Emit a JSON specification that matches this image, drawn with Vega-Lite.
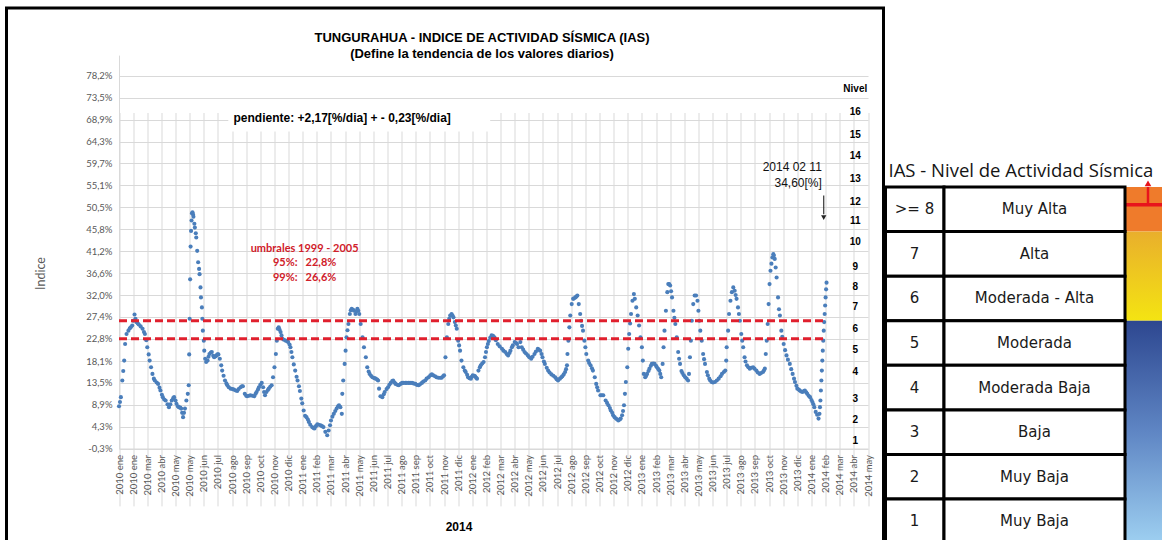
{
  "$schema": "https://vega.github.io/schema/vega-lite/v6.json",
  "background": "white",
  "padding": {"left": 4.5, "top": 6, "right": 0, "bottom": 0},
  "spacing": -5,
  "config": {"view": {"stroke": null}},
  "datasets": {
    "ias": [
      {"fecha":"2010-01-01","ias":8.6},{"fecha":"2010-01-03","ias":9.5},{"fecha":"2010-01-05","ias":10.5},{"fecha":"2010-01-08","ias":14.0},{"fecha":"2010-01-10","ias":16.0},{"fecha":"2010-01-12","ias":18.2},{"fecha":"2010-01-14","ias":21.7},{"fecha":"2010-01-17","ias":23.8},{"fecha":"2010-01-21","ias":24.5},{"fecha":"2010-01-24","ias":25.0},{"fecha":"2010-01-26","ias":25.2},{"fecha":"2010-01-29","ias":25.6},{"fecha":"2010-01-31","ias":26.6},
      {"fecha":"2010-02-03","ias":27.9},{"fecha":"2010-02-05","ias":27.0},{"fecha":"2010-02-07","ias":26.3},{"fecha":"2010-02-10","ias":26.0},{"fecha":"2010-02-12","ias":25.8},{"fecha":"2010-02-16","ias":25.4},{"fecha":"2010-02-20","ias":24.9},{"fecha":"2010-02-23","ias":24.2},{"fecha":"2010-02-25","ias":23.8},{"fecha":"2010-02-28","ias":22.5},
      {"fecha":"2010-03-02","ias":21.0},{"fecha":"2010-03-05","ias":19.5},{"fecha":"2010-03-07","ias":18.2},{"fecha":"2010-03-10","ias":16.8},{"fecha":"2010-03-13","ias":15.4},{"fecha":"2010-03-16","ias":14.4},{"fecha":"2010-03-18","ias":14.0},{"fecha":"2010-03-22","ias":13.6},{"fecha":"2010-03-25","ias":13.3},{"fecha":"2010-03-28","ias":12.5},{"fecha":"2010-03-30","ias":11.9},
      {"fecha":"2010-04-02","ias":11.0},{"fecha":"2010-04-04","ias":10.5},{"fecha":"2010-04-07","ias":10.0},{"fecha":"2010-04-10","ias":9.8},{"fecha":"2010-04-14","ias":9.0},{"fecha":"2010-04-17","ias":8.4},{"fecha":"2010-04-20","ias":9.0},{"fecha":"2010-04-23","ias":9.8},{"fecha":"2010-04-26","ias":10.3},{"fecha":"2010-04-28","ias":10.5},
      {"fecha":"2010-05-01","ias":9.8},{"fecha":"2010-05-03","ias":9.1},{"fecha":"2010-05-06","ias":8.6},{"fecha":"2010-05-08","ias":8.4},{"fecha":"2010-05-11","ias":8.3},{"fecha":"2010-05-13","ias":8.1},{"fecha":"2010-05-15","ias":7.2},{"fecha":"2010-05-17","ias":6.3},{"fecha":"2010-05-19","ias":7.2},{"fecha":"2010-05-21","ias":8.1},{"fecha":"2010-05-24","ias":9.8},{"fecha":"2010-05-27","ias":11.2},{"fecha":"2010-05-29","ias":13.0},{"fecha":"2010-05-30","ias":19.5},{"fecha":"2010-05-31","ias":27.0},
      {"fecha":"2010-06-01","ias":35.3},{"fecha":"2010-06-02","ias":42.2},{"fecha":"2010-06-03","ias":45.5},{"fecha":"2010-06-04","ias":47.7},{"fecha":"2010-06-05","ias":49.2},{"fecha":"2010-06-06","ias":49.4},{"fecha":"2010-06-07","ias":49.0},{"fecha":"2010-06-08","ias":48.5},{"fecha":"2010-06-10","ias":47.0},{"fecha":"2010-06-11","ias":46.2},{"fecha":"2010-06-13","ias":45.0},{"fecha":"2010-06-14","ias":44.1},{"fecha":"2010-06-16","ias":41.3},{"fecha":"2010-06-18","ias":38.9},{"fecha":"2010-06-20","ias":37.5},{"fecha":"2010-06-21","ias":36.4},{"fecha":"2010-06-23","ias":33.6},{"fecha":"2010-06-24","ias":31.5},{"fecha":"2010-06-26","ias":29.4},{"fecha":"2010-06-27","ias":27.0},{"fecha":"2010-06-28","ias":24.5},{"fecha":"2010-06-30","ias":22.4},
      {"fecha":"2010-07-01","ias":20.3},{"fecha":"2010-07-03","ias":18.6},{"fecha":"2010-07-05","ias":17.9},{"fecha":"2010-07-08","ias":18.2},{"fecha":"2010-07-10","ias":19.0},{"fecha":"2010-07-12","ias":19.6},{"fecha":"2010-07-15","ias":19.9},{"fecha":"2010-07-17","ias":20.0},{"fecha":"2010-07-20","ias":19.2},{"fecha":"2010-07-22","ias":18.9},{"fecha":"2010-07-25","ias":19.1},{"fecha":"2010-07-27","ias":19.3},{"fecha":"2010-07-29","ias":19.5},{"fecha":"2010-07-31","ias":19.5},
      {"fecha":"2010-08-03","ias":18.6},{"fecha":"2010-08-06","ias":17.2},{"fecha":"2010-08-08","ias":16.1},{"fecha":"2010-08-11","ias":15.0},{"fecha":"2010-08-14","ias":14.0},{"fecha":"2010-08-17","ias":13.4},{"fecha":"2010-08-19","ias":13.0},{"fecha":"2010-08-22","ias":12.6},{"fecha":"2010-08-26","ias":12.3},{"fecha":"2010-08-30","ias":12.2},
      {"fecha":"2010-09-02","ias":12.1},{"fecha":"2010-09-06","ias":11.9},{"fecha":"2010-09-09","ias":11.8},{"fecha":"2010-09-12","ias":12.2},{"fecha":"2010-09-16","ias":12.6},{"fecha":"2010-09-19","ias":12.8},{"fecha":"2010-09-21","ias":12.8},{"fecha":"2010-09-25","ias":11.2},{"fecha":"2010-09-28","ias":10.8},{"fecha":"2010-09-30","ias":10.7},
      {"fecha":"2010-10-04","ias":10.8},{"fecha":"2010-10-07","ias":10.9},{"fecha":"2010-10-11","ias":10.8},{"fecha":"2010-10-15","ias":10.7},{"fecha":"2010-10-18","ias":11.2},{"fecha":"2010-10-20","ias":11.6},{"fecha":"2010-10-23","ias":12.1},{"fecha":"2010-10-25","ias":12.6},{"fecha":"2010-10-28","ias":13.1},{"fecha":"2010-10-31","ias":13.5},
      {"fecha":"2010-11-03","ias":12.6},{"fecha":"2010-11-05","ias":11.6},{"fecha":"2010-11-07","ias":10.9},{"fecha":"2010-11-10","ias":11.6},{"fecha":"2010-11-13","ias":12.0},{"fecha":"2010-11-15","ias":12.3},{"fecha":"2010-11-18","ias":12.7},{"fecha":"2010-11-21","ias":13.0},{"fecha":"2010-11-24","ias":14.7},{"fecha":"2010-11-27","ias":16.8},{"fecha":"2010-11-30","ias":19.6},
      {"fecha":"2010-12-02","ias":22.4},{"fecha":"2010-12-04","ias":24.9},{"fecha":"2010-12-06","ias":25.2},{"fecha":"2010-12-08","ias":24.7},{"fecha":"2010-12-10","ias":24.2},{"fecha":"2010-12-12","ias":23.5},{"fecha":"2010-12-14","ias":22.8},{"fecha":"2010-12-17","ias":22.6},{"fecha":"2010-12-21","ias":22.4},{"fecha":"2010-12-24","ias":22.3},{"fecha":"2010-12-26","ias":22.1},{"fecha":"2010-12-29","ias":21.6},{"fecha":"2010-12-31","ias":21.0},
      {"fecha":"2011-01-02","ias":20.0},{"fecha":"2011-01-04","ias":18.9},{"fecha":"2011-01-07","ias":17.4},{"fecha":"2011-01-10","ias":16.1},{"fecha":"2011-01-13","ias":14.8},{"fecha":"2011-01-15","ias":14.0},{"fecha":"2011-01-18","ias":12.8},{"fecha":"2011-01-20","ias":11.8},{"fecha":"2011-01-23","ias":10.2},{"fecha":"2011-01-25","ias":9.2},{"fecha":"2011-01-28","ias":7.7},{"fecha":"2011-01-31","ias":6.6},
      {"fecha":"2011-02-03","ias":6.3},{"fecha":"2011-02-06","ias":5.8},{"fecha":"2011-02-08","ias":5.3},{"fecha":"2011-02-11","ias":4.7},{"fecha":"2011-02-15","ias":4.2},{"fecha":"2011-02-18","ias":4.0},{"fecha":"2011-02-20","ias":3.9},{"fecha":"2011-02-23","ias":4.4},{"fecha":"2011-02-26","ias":4.8},
      {"fecha":"2011-03-01","ias":4.7},{"fecha":"2011-03-05","ias":4.6},{"fecha":"2011-03-08","ias":4.4},{"fecha":"2011-03-11","ias":4.2},{"fecha":"2011-03-15","ias":3.2},{"fecha":"2011-03-19","ias":2.5},{"fecha":"2011-03-22","ias":3.5},{"fecha":"2011-03-25","ias":4.6},{"fecha":"2011-03-27","ias":5.6},{"fecha":"2011-03-30","ias":6.4},
      {"fecha":"2011-04-02","ias":7.0},{"fecha":"2011-04-05","ias":7.6},{"fecha":"2011-04-08","ias":8.1},{"fecha":"2011-04-11","ias":8.6},{"fecha":"2011-04-13","ias":8.8},{"fecha":"2011-04-16","ias":8.4},{"fecha":"2011-04-19","ias":7.0},{"fecha":"2011-04-20","ias":11.2},{"fecha":"2011-04-22","ias":14.0},{"fecha":"2011-04-25","ias":17.5},{"fecha":"2011-04-27","ias":20.3},{"fecha":"2011-04-29","ias":23.1},
      {"fecha":"2011-05-01","ias":24.6},{"fecha":"2011-05-03","ias":25.9},{"fecha":"2011-05-06","ias":28.0},{"fecha":"2011-05-08","ias":28.8},{"fecha":"2011-05-10","ias":29.1},{"fecha":"2011-05-13","ias":28.9},{"fecha":"2011-05-15","ias":28.7},{"fecha":"2011-05-18","ias":28.0},{"fecha":"2011-05-20","ias":28.6},{"fecha":"2011-05-22","ias":29.1},{"fecha":"2011-05-24","ias":28.7},{"fecha":"2011-05-26","ias":28.0},{"fecha":"2011-05-29","ias":25.9},
      {"fecha":"2011-06-02","ias":23.1},{"fecha":"2011-06-05","ias":21.0},{"fecha":"2011-06-09","ias":18.9},{"fecha":"2011-06-12","ias":16.8},{"fecha":"2011-06-15","ias":15.9},{"fecha":"2011-06-17","ias":15.4},{"fecha":"2011-06-20","ias":15.0},{"fecha":"2011-06-23","ias":14.7},{"fecha":"2011-06-27","ias":14.5},{"fecha":"2011-06-30","ias":14.4},
      {"fecha":"2011-07-03","ias":14.2},{"fecha":"2011-07-05","ias":14.0},{"fecha":"2011-07-07","ias":12.3},{"fecha":"2011-07-10","ias":10.7},{"fecha":"2011-07-14","ias":10.5},{"fecha":"2011-07-17","ias":11.1},{"fecha":"2011-07-19","ias":11.6},{"fecha":"2011-07-23","ias":12.2},{"fecha":"2011-07-26","ias":12.6},{"fecha":"2011-07-29","ias":13.1},
      {"fecha":"2011-08-01","ias":13.5},{"fecha":"2011-08-04","ias":13.9},{"fecha":"2011-08-06","ias":14.0},{"fecha":"2011-08-09","ias":13.6},{"fecha":"2011-08-11","ias":13.3},{"fecha":"2011-08-15","ias":13.1},{"fecha":"2011-08-18","ias":13.0},{"fecha":"2011-08-22","ias":13.3},{"fecha":"2011-08-25","ias":13.5},{"fecha":"2011-08-28","ias":13.5},
      {"fecha":"2011-09-01","ias":13.5},{"fecha":"2011-09-04","ias":13.5},{"fecha":"2011-09-08","ias":13.5},{"fecha":"2011-09-11","ias":13.5},{"fecha":"2011-09-15","ias":13.5},{"fecha":"2011-09-18","ias":13.4},{"fecha":"2011-09-22","ias":13.3},{"fecha":"2011-09-25","ias":13.1},{"fecha":"2011-09-29","ias":13.0},
      {"fecha":"2011-10-02","ias":13.2},{"fecha":"2011-10-06","ias":13.5},{"fecha":"2011-10-09","ias":13.8},{"fecha":"2011-10-13","ias":14.0},{"fecha":"2011-10-16","ias":14.4},{"fecha":"2011-10-20","ias":14.7},{"fecha":"2011-10-24","ias":15.1},{"fecha":"2011-10-27","ias":15.3},{"fecha":"2011-10-30","ias":15.1},
      {"fecha":"2011-11-03","ias":14.9},{"fecha":"2011-11-06","ias":14.7},{"fecha":"2011-11-10","ias":14.6},{"fecha":"2011-11-14","ias":14.6},{"fecha":"2011-11-17","ias":14.6},{"fecha":"2011-11-20","ias":14.9},{"fecha":"2011-11-22","ias":15.1},{"fecha":"2011-11-25","ias":18.9},{"fecha":"2011-11-28","ias":23.1},
      {"fecha":"2011-12-01","ias":25.9},{"fecha":"2011-12-03","ias":27.0},{"fecha":"2011-12-05","ias":27.7},{"fecha":"2011-12-08","ias":28.0},{"fecha":"2011-12-10","ias":27.7},{"fecha":"2011-12-12","ias":27.3},{"fecha":"2011-12-15","ias":26.3},{"fecha":"2011-12-17","ias":25.6},{"fecha":"2011-12-19","ias":24.9},{"fecha":"2011-12-22","ias":22.4},{"fecha":"2011-12-24","ias":21.4},{"fecha":"2011-12-26","ias":20.3},{"fecha":"2011-12-29","ias":18.2},
      {"fecha":"2012-01-02","ias":16.8},{"fecha":"2012-01-05","ias":16.1},{"fecha":"2012-01-07","ias":15.8},{"fecha":"2012-01-10","ias":15.2},{"fecha":"2012-01-12","ias":14.7},{"fecha":"2012-01-15","ias":14.5},{"fecha":"2012-01-18","ias":14.4},{"fecha":"2012-01-20","ias":14.8},{"fecha":"2012-01-22","ias":15.1},{"fecha":"2012-01-25","ias":15.0},{"fecha":"2012-01-27","ias":14.9},{"fecha":"2012-01-29","ias":14.6},{"fecha":"2012-01-31","ias":14.4},
      {"fecha":"2012-02-03","ias":16.1},{"fecha":"2012-02-06","ias":16.8},{"fecha":"2012-02-08","ias":17.2},{"fecha":"2012-02-11","ias":17.6},{"fecha":"2012-02-14","ias":17.9},{"fecha":"2012-02-17","ias":18.9},{"fecha":"2012-02-19","ias":20.0},{"fecha":"2012-02-21","ias":21.0},{"fecha":"2012-02-23","ias":21.7},{"fecha":"2012-02-25","ias":22.3},{"fecha":"2012-02-28","ias":23.0},
      {"fecha":"2012-03-02","ias":23.5},{"fecha":"2012-03-05","ias":23.4},{"fecha":"2012-03-08","ias":23.1},{"fecha":"2012-03-11","ias":22.5},{"fecha":"2012-03-15","ias":21.7},{"fecha":"2012-03-19","ias":21.2},{"fecha":"2012-03-24","ias":20.7},{"fecha":"2012-03-27","ias":20.3},{"fecha":"2012-03-31","ias":20.0},
      {"fecha":"2012-04-03","ias":19.6},{"fecha":"2012-04-06","ias":19.3},{"fecha":"2012-04-09","ias":19.8},{"fecha":"2012-04-11","ias":20.3},{"fecha":"2012-04-14","ias":21.0},{"fecha":"2012-04-16","ias":21.4},{"fecha":"2012-04-20","ias":22.1},{"fecha":"2012-04-23","ias":21.9},{"fecha":"2012-04-25","ias":21.7},{"fecha":"2012-04-28","ias":21.0},
      {"fecha":"2012-05-02","ias":22.1},{"fecha":"2012-05-05","ias":21.0},{"fecha":"2012-05-08","ias":20.5},{"fecha":"2012-05-11","ias":20.0},{"fecha":"2012-05-14","ias":19.7},{"fecha":"2012-05-18","ias":19.3},{"fecha":"2012-05-21","ias":18.9},{"fecha":"2012-05-25","ias":18.6},{"fecha":"2012-05-28","ias":19.0},
      {"fecha":"2012-06-01","ias":19.6},{"fecha":"2012-06-04","ias":20.1},{"fecha":"2012-06-08","ias":20.7},{"fecha":"2012-06-10","ias":20.5},{"fecha":"2012-06-13","ias":20.3},{"fecha":"2012-06-16","ias":19.6},{"fecha":"2012-06-18","ias":18.9},{"fecha":"2012-06-21","ias":18.0},{"fecha":"2012-06-23","ias":17.5},{"fecha":"2012-06-27","ias":16.7},{"fecha":"2012-06-30","ias":16.1},
      {"fecha":"2012-07-03","ias":15.7},{"fecha":"2012-07-07","ias":15.3},{"fecha":"2012-07-11","ias":15.0},{"fecha":"2012-07-15","ias":14.7},{"fecha":"2012-07-18","ias":14.3},{"fecha":"2012-07-21","ias":14.0},{"fecha":"2012-07-25","ias":14.4},{"fecha":"2012-07-28","ias":14.7},{"fecha":"2012-07-30","ias":14.9},
      {"fecha":"2012-08-02","ias":15.3},{"fecha":"2012-08-05","ias":15.8},{"fecha":"2012-08-07","ias":16.4},{"fecha":"2012-08-09","ias":17.2},{"fecha":"2012-08-10","ias":19.6},{"fecha":"2012-08-12","ias":22.4},{"fecha":"2012-08-14","ias":25.2},{"fecha":"2012-08-16","ias":27.7},{"fecha":"2012-08-19","ias":30.1},{"fecha":"2012-08-22","ias":31.2},{"fecha":"2012-08-24","ias":31.3},{"fecha":"2012-08-27","ias":31.5},{"fecha":"2012-08-29","ias":31.7},{"fecha":"2012-08-31","ias":31.9},
      {"fecha":"2012-09-03","ias":30.1},{"fecha":"2012-09-06","ias":28.0},{"fecha":"2012-09-08","ias":26.6},{"fecha":"2012-09-10","ias":25.5},{"fecha":"2012-09-12","ias":24.5},{"fecha":"2012-09-15","ias":22.4},{"fecha":"2012-09-17","ias":21.0},{"fecha":"2012-09-19","ias":19.6},{"fecha":"2012-09-23","ias":18.2},{"fecha":"2012-09-25","ias":17.7},{"fecha":"2012-09-28","ias":17.2},
      {"fecha":"2012-10-01","ias":16.6},{"fecha":"2012-10-03","ias":16.1},{"fecha":"2012-10-07","ias":14.7},{"fecha":"2012-10-10","ias":13.3},{"fecha":"2012-10-12","ias":12.6},{"fecha":"2012-10-14","ias":11.9},{"fecha":"2012-10-19","ias":10.9},{"fecha":"2012-10-22","ias":10.9},{"fecha":"2012-10-25","ias":10.9},{"fecha":"2012-10-30","ias":9.8},
      {"fecha":"2012-11-02","ias":9.3},{"fecha":"2012-11-05","ias":8.8},{"fecha":"2012-11-08","ias":8.2},{"fecha":"2012-11-10","ias":7.7},{"fecha":"2012-11-13","ias":7.2},{"fecha":"2012-11-15","ias":6.7},{"fecha":"2012-11-18","ias":6.3},{"fecha":"2012-11-21","ias":6.0},{"fecha":"2012-11-24","ias":5.8},{"fecha":"2012-11-26","ias":5.6},{"fecha":"2012-11-29","ias":5.8},
      {"fecha":"2012-12-01","ias":6.0},{"fecha":"2012-12-04","ias":6.7},{"fecha":"2012-12-06","ias":7.6},{"fecha":"2012-12-08","ias":8.8},{"fecha":"2012-12-10","ias":11.2},{"fecha":"2012-12-12","ias":13.7},{"fecha":"2012-12-15","ias":16.8},{"fecha":"2012-12-17","ias":20.7},{"fecha":"2012-12-19","ias":23.8},{"fecha":"2012-12-21","ias":26.0},{"fecha":"2012-12-23","ias":28.0},{"fecha":"2012-12-26","ias":30.8},{"fecha":"2012-12-29","ias":32.2},{"fecha":"2012-12-31","ias":31.2},
      {"fecha":"2013-01-03","ias":29.4},{"fecha":"2013-01-06","ias":27.7},{"fecha":"2013-01-09","ias":25.6},{"fecha":"2013-01-12","ias":23.1},{"fecha":"2013-01-15","ias":21.0},{"fecha":"2013-01-17","ias":18.2},{"fecha":"2013-01-19","ias":15.4},{"fecha":"2013-01-22","ias":14.7},{"fecha":"2013-01-24","ias":15.0},{"fecha":"2013-01-26","ias":15.4},{"fecha":"2013-01-29","ias":16.0},{"fecha":"2013-01-31","ias":16.5},
      {"fecha":"2013-02-03","ias":17.1},{"fecha":"2013-02-05","ias":17.5},{"fecha":"2013-02-08","ias":17.6},{"fecha":"2013-02-11","ias":17.5},{"fecha":"2013-02-14","ias":17.1},{"fecha":"2013-02-16","ias":16.8},{"fecha":"2013-02-19","ias":16.4},{"fecha":"2013-02-21","ias":16.1},{"fecha":"2013-02-23","ias":15.4},{"fecha":"2013-02-25","ias":14.7},{"fecha":"2013-02-28","ias":17.5},
      {"fecha":"2013-03-02","ias":21.0},{"fecha":"2013-03-04","ias":24.5},{"fecha":"2013-03-07","ias":28.7},{"fecha":"2013-03-10","ias":32.6},{"fecha":"2013-03-12","ias":34.3},{"fecha":"2013-03-14","ias":34.3},{"fecha":"2013-03-16","ias":34.0},{"fecha":"2013-03-18","ias":32.8},{"fecha":"2013-03-20","ias":31.5},{"fecha":"2013-03-23","ias":28.7},{"fecha":"2013-03-25","ias":27.2},{"fecha":"2013-03-27","ias":25.9},{"fecha":"2013-03-30","ias":23.1},
      {"fecha":"2013-04-02","ias":20.0},{"fecha":"2013-04-04","ias":18.6},{"fecha":"2013-04-06","ias":17.5},{"fecha":"2013-04-09","ias":16.0},{"fecha":"2013-04-11","ias":15.6},{"fecha":"2013-04-14","ias":15.1},{"fecha":"2013-04-17","ias":14.7},{"fecha":"2013-04-20","ias":14.4},{"fecha":"2013-04-23","ias":14.0},{"fecha":"2013-04-25","ias":15.4},{"fecha":"2013-04-27","ias":18.9},{"fecha":"2013-04-29","ias":22.4},
      {"fecha":"2013-05-01","ias":26.6},{"fecha":"2013-05-04","ias":30.1},{"fecha":"2013-05-07","ias":31.9},{"fecha":"2013-05-10","ias":31.9},{"fecha":"2013-05-13","ias":30.8},{"fecha":"2013-05-15","ias":28.7},{"fecha":"2013-05-17","ias":26.6},{"fecha":"2013-05-19","ias":24.5},{"fecha":"2013-05-22","ias":22.4},{"fecha":"2013-05-25","ias":19.6},{"fecha":"2013-05-27","ias":18.5},{"fecha":"2013-05-29","ias":17.5},
      {"fecha":"2013-06-02","ias":15.8},{"fecha":"2013-06-04","ias":15.1},{"fecha":"2013-06-07","ias":14.4},{"fecha":"2013-06-09","ias":14.0},{"fecha":"2013-06-12","ias":13.7},{"fecha":"2013-06-15","ias":13.6},{"fecha":"2013-06-19","ias":13.7},{"fecha":"2013-06-23","ias":14.0},{"fecha":"2013-06-27","ias":14.4},
      {"fecha":"2013-07-01","ias":14.9},{"fecha":"2013-07-04","ias":15.4},{"fecha":"2013-07-08","ias":15.8},{"fecha":"2013-07-11","ias":16.1},{"fecha":"2013-07-13","ias":18.2},{"fecha":"2013-07-14","ias":21.0},{"fecha":"2013-07-17","ias":24.5},{"fecha":"2013-07-19","ias":28.0},{"fecha":"2013-07-22","ias":30.8},{"fecha":"2013-07-25","ias":32.6},{"fecha":"2013-07-28","ias":33.6},{"fecha":"2013-07-31","ias":32.9},
      {"fecha":"2013-08-02","ias":32.0},{"fecha":"2013-08-04","ias":31.2},{"fecha":"2013-08-07","ias":29.4},{"fecha":"2013-08-09","ias":28.0},{"fecha":"2013-08-11","ias":26.6},{"fecha":"2013-08-14","ias":23.8},{"fecha":"2013-08-16","ias":22.4},{"fecha":"2013-08-18","ias":21.0},{"fecha":"2013-08-21","ias":18.9},{"fecha":"2013-08-23","ias":18.0},{"fecha":"2013-08-26","ias":17.2},{"fecha":"2013-08-29","ias":16.8},
      {"fecha":"2013-09-01","ias":16.5},{"fecha":"2013-09-04","ias":16.7},{"fecha":"2013-09-08","ias":16.8},{"fecha":"2013-09-11","ias":16.5},{"fecha":"2013-09-15","ias":16.1},{"fecha":"2013-09-18","ias":15.7},{"fecha":"2013-09-22","ias":15.4},{"fecha":"2013-09-25","ias":15.6},{"fecha":"2013-09-29","ias":15.8},
      {"fecha":"2013-10-01","ias":16.1},{"fecha":"2013-10-03","ias":16.5},{"fecha":"2013-10-05","ias":19.6},{"fecha":"2013-10-07","ias":22.4},{"fecha":"2013-10-09","ias":25.9},{"fecha":"2013-10-11","ias":30.1},{"fecha":"2013-10-13","ias":34.3},{"fecha":"2013-10-15","ias":37.1},{"fecha":"2013-10-17","ias":38.6},{"fecha":"2013-10-19","ias":39.9},{"fecha":"2013-10-21","ias":40.6},{"fecha":"2013-10-22","ias":40.3},{"fecha":"2013-10-24","ias":39.6},{"fecha":"2013-10-26","ias":37.8},{"fecha":"2013-10-28","ias":35.7},{"fecha":"2013-10-31","ias":31.5},
      {"fecha":"2013-11-02","ias":29.0},{"fecha":"2013-11-04","ias":27.7},{"fecha":"2013-11-07","ias":24.5},{"fecha":"2013-11-09","ias":23.2},{"fecha":"2013-11-12","ias":21.7},{"fecha":"2013-11-15","ias":20.4},{"fecha":"2013-11-18","ias":19.3},{"fecha":"2013-11-21","ias":18.4},{"fecha":"2013-11-25","ias":17.5},{"fecha":"2013-11-28","ias":16.4},
      {"fecha":"2013-12-01","ias":15.4},{"fecha":"2013-12-04","ias":14.4},{"fecha":"2013-12-06","ias":13.7},{"fecha":"2013-12-09","ias":12.9},{"fecha":"2013-12-11","ias":12.3},{"fecha":"2013-12-14","ias":12.1},{"fecha":"2013-12-16","ias":11.9},{"fecha":"2013-12-19","ias":11.7},{"fecha":"2013-12-22","ias":11.6},{"fecha":"2013-12-25","ias":11.8},{"fecha":"2013-12-27","ias":11.9},{"fecha":"2013-12-30","ias":11.5},
      {"fecha":"2014-01-01","ias":11.2},{"fecha":"2014-01-04","ias":10.8},{"fecha":"2014-01-07","ias":10.5},{"fecha":"2014-01-10","ias":9.9},{"fecha":"2014-01-12","ias":9.5},{"fecha":"2014-01-14","ias":9.0},{"fecha":"2014-01-16","ias":8.4},{"fecha":"2014-01-19","ias":7.4},{"fecha":"2014-01-22","ias":6.8},{"fecha":"2014-01-25","ias":6.0},{"fecha":"2014-01-27","ias":7.0},{"fecha":"2014-01-28","ias":8.4},{"fecha":"2014-01-29","ias":9.8},{"fecha":"2014-01-30","ias":11.9},{"fecha":"2014-01-31","ias":14.0},
      {"fecha":"2014-02-01","ias":16.1},{"fecha":"2014-02-02","ias":18.2},{"fecha":"2014-02-03","ias":20.3},{"fecha":"2014-02-04","ias":22.4},{"fecha":"2014-02-05","ias":24.5},{"fecha":"2014-02-06","ias":26.3},{"fecha":"2014-02-07","ias":28.0},{"fecha":"2014-02-08","ias":29.8},{"fecha":"2014-02-09","ias":31.5},{"fecha":"2014-02-10","ias":33.2},{"fecha":"2014-02-11","ias":34.6}
    ],
    "umbrales": [
      {"umbral": "95%", "valor": 22.8},
      {"umbral": "99%", "valor": 26.6}
    ],
    "niveles": [
      {"etiqueta": "Nivel", "pct": 75.3},
      {"etiqueta": "16", "pct": 70.6},
      {"etiqueta": "15", "pct": 65.7},
      {"etiqueta": "14", "pct": 61.2},
      {"etiqueta": "13", "pct": 56.5},
      {"etiqueta": "12", "pct": 51.5},
      {"etiqueta": "11", "pct": 47.6},
      {"etiqueta": "10", "pct": 43.2},
      {"etiqueta": "9", "pct": 37.9},
      {"etiqueta": "8", "pct": 33.6},
      {"etiqueta": "7", "pct": 29.4},
      {"etiqueta": "6", "pct": 24.9},
      {"etiqueta": "5", "pct": 20.5},
      {"etiqueta": "4", "pct": 15.9},
      {"etiqueta": "3", "pct": 10.2},
      {"etiqueta": "2", "pct": 5.8},
      {"etiqueta": "1", "pct": 1.2}
    ],
    "tabla": [
      {"nivel": "8", "num": ">= 8", "desc": "Muy Alta"},
      {"nivel": "7", "num": "7", "desc": "Alta"},
      {"nivel": "6", "num": "6", "desc": "Moderada - Alta"},
      {"nivel": "5", "num": "5", "desc": "Moderada"},
      {"nivel": "4", "num": "4", "desc": "Moderada Baja"},
      {"nivel": "3", "num": "3", "desc": "Baja"},
      {"nivel": "2", "num": "2", "desc": "Muy Baja"},
      {"nivel": "1", "num": "1", "desc": "Muy Baja"}
    ]
  },
  "hconcat": [
    {
      "width": 877,
      "height": 545,
      "view": {"stroke": "black", "strokeWidth": 3, "fill": "white"},
      "title": {
        "text": "TUNGURAHUA - INDICE DE ACTIVIDAD SÍSMICA (IAS)",
        "subtitle": "(Define la tendencia de los valores diarios)",
        "frame": "group", "anchor": "middle", "offset": -53, "dx": 37,
        "font": "Liberation Sans", "fontSize": 13, "fontWeight": "bold", "color": "black",
        "subtitleFont": "Liberation Sans", "subtitleFontSize": 13, "subtitleFontWeight": "bold", "subtitleColor": "black", "subtitlePadding": 3
      },
      "layer": [
        {
          "data": {"values": [{}]},
          "mark": {"type": "rect", "fill": "white"},
          "encoding": {
            "x": {"datum": {"year": 2010, "month": 8, "date": 21, "utc": true}, "type": "temporal"},
            "x2": {"datum": {"year": 2012, "month": 2, "date": 28, "utc": true}},
            "y": {"datum": 66.4, "type": "quantitative"},
            "y2": {"datum": 71.3}
          }
        },
        {
          "data": {"name": "ias"},
          "mark": {"type": "circle", "size": 17, "color": "#4A7EBB", "opacity": 1},
          "encoding": {
            "x": {
              "field": "fecha", "type": "temporal",
              "scale": {"type": "utc", "domain": [{"year": 2010, "month": 1, "date": 1, "utc": true}, {"year": 2014, "month": 5, "date": 10, "utc": true}], "range": [112.5, 861.5], "nice": false},
              "axis": {
                "values": [
                  {"year":2010,"month":1,"date":1,"utc":true},{"year":2010,"month":1,"date":31,"utc":true},{"year":2010,"month":3,"date":2,"utc":true},{"year":2010,"month":4,"date":1,"utc":true},{"year":2010,"month":5,"date":1,"utc":true},{"year":2010,"month":5,"date":31,"utc":true},{"year":2010,"month":6,"date":30,"utc":true},{"year":2010,"month":7,"date":30,"utc":true},{"year":2010,"month":8,"date":29,"utc":true},{"year":2010,"month":9,"date":28,"utc":true},{"year":2010,"month":10,"date":28,"utc":true},{"year":2010,"month":11,"date":27,"utc":true},{"year":2010,"month":12,"date":27,"utc":true},
                  {"year":2011,"month":1,"date":26,"utc":true},{"year":2011,"month":2,"date":25,"utc":true},{"year":2011,"month":3,"date":27,"utc":true},{"year":2011,"month":4,"date":26,"utc":true},{"year":2011,"month":5,"date":26,"utc":true},{"year":2011,"month":6,"date":25,"utc":true},{"year":2011,"month":7,"date":25,"utc":true},{"year":2011,"month":8,"date":24,"utc":true},{"year":2011,"month":9,"date":23,"utc":true},{"year":2011,"month":10,"date":23,"utc":true},{"year":2011,"month":11,"date":22,"utc":true},{"year":2011,"month":12,"date":22,"utc":true},
                  {"year":2012,"month":1,"date":21,"utc":true},{"year":2012,"month":2,"date":20,"utc":true},{"year":2012,"month":3,"date":21,"utc":true},{"year":2012,"month":4,"date":20,"utc":true},{"year":2012,"month":5,"date":20,"utc":true},{"year":2012,"month":6,"date":19,"utc":true},{"year":2012,"month":7,"date":19,"utc":true},{"year":2012,"month":8,"date":18,"utc":true},{"year":2012,"month":9,"date":17,"utc":true},{"year":2012,"month":10,"date":17,"utc":true},{"year":2012,"month":11,"date":16,"utc":true},{"year":2012,"month":12,"date":16,"utc":true},
                  {"year":2013,"month":1,"date":15,"utc":true},{"year":2013,"month":2,"date":14,"utc":true},{"year":2013,"month":3,"date":16,"utc":true},{"year":2013,"month":4,"date":15,"utc":true},{"year":2013,"month":5,"date":15,"utc":true},{"year":2013,"month":6,"date":14,"utc":true},{"year":2013,"month":7,"date":14,"utc":true},{"year":2013,"month":8,"date":13,"utc":true},{"year":2013,"month":9,"date":12,"utc":true},{"year":2013,"month":10,"date":12,"utc":true},{"year":2013,"month":11,"date":11,"utc":true},{"year":2013,"month":12,"date":11,"utc":true},
                  {"year":2014,"month":1,"date":10,"utc":true},{"year":2014,"month":2,"date":9,"utc":true},{"year":2014,"month":3,"date":11,"utc":true},{"year":2014,"month":4,"date":10,"utc":true},{"year":2014,"month":5,"date":10,"utc":true}
                ],
                "tickCount": 500,
                "labelExpr": "utcFormat(datum.value, '%Y') + ' ' + ['ene','feb','mar','abr','may','jun','jul','ago','sep','oct','nov','dic'][utcmonth(datum.value)]",
                "labelAngle": -90, "labelAlign": "right", "labelBaseline": "middle",
                "labelFont": "Lato", "labelFontSize": 9.5, "labelColor": "#595959", "labelPadding": 6,
                "labelOverlap": false, "labelFlush": false, "labelBound": false,
                "offset": -104.5,
                "grid": true, "gridColor": "#D9D9D9", "gridWidth": 1,
                "ticks": false, "domain": true, "domainColor": "#D9D9D9",
                "title": "2014", "titleFont": "Liberation Sans", "titleFontSize": 12, "titleFontWeight": "bold", "titleColor": "black",
                "titleX": 452, "titleY": 78, "titleAlign": "center", "titleBaseline": "middle", "titleAngle": 0
              }
            },
            "y": {
              "field": "ias", "type": "quantitative",
              "scale": {"domain": [-0.3, 82.5], "range": [440.5, 47.1], "nice": false, "zero": false},
              "axis": {
                "values": [-0.3, 4.3, 8.9, 13.5, 18.1, 22.8, 27.4, 32.0, 36.6, 41.2, 45.8, 50.5, 55.1, 59.7, 64.3, 68.9, 73.5, 78.2],
                "tickCount": 500,
                "labelExpr": "(datum.value < 0 ? '-' : '') + replace(format(abs(datum.value), '.1f'), '.', ',') + '%'",
                "labelFont": "Lato", "labelFontSize": 9.5, "labelColor": "#595959", "labelPadding": 7,
                "labelFlush": false, "labelOverlap": false,
                "offset": -112.5,
                "grid": true, "gridColor": "#D9D9D9", "gridWidth": 1,
                "ticks": false, "domain": true, "domainColor": "#D9D9D9",
                "title": "Indice", "titleFont": "Lato", "titleFontSize": 12.5, "titleFontWeight": "normal", "titleColor": "#595959",
                "titleX": -78.5, "titleY": 265, "titleAngle": -90, "titleAlign": "center", "titleBaseline": "middle"
              }
            }
          }
        },
        {
          "data": {"name": "umbrales"},
          "mark": {"type": "rule", "color": "#E0202E", "strokeWidth": 3, "strokeDash": [8, 4]},
          "encoding": {
            "x": {"datum": {"year": 2010, "month": 1, "date": 1, "utc": true}, "type": "temporal"},
            "x2": {"datum": {"year": 2014, "month": 2, "date": 12, "utc": true}},
            "y": {"field": "valor", "type": "quantitative"}
          }
        },
        {
          "data": {"name": "niveles"},
          "mark": {"type": "text", "font": "Liberation Sans", "fontWeight": "bold", "fontSize": 10, "color": "black", "align": "center", "baseline": "middle"},
          "encoding": {
            "x": {"datum": {"year": 2014, "month": 4, "date": 13, "utc": true}, "type": "temporal"},
            "y": {"field": "pct", "type": "quantitative"},
            "text": {"field": "etiqueta"}
          }
        },
        {
          "data": {"values": [{}]},
          "mark": {"type": "text", "text": "pendiente:  +2,17[%/dia] + - 0,23[%/dia]", "font": "Liberation Sans", "fontWeight": "bold", "fontSize": 12, "color": "black", "align": "left", "baseline": "middle"},
          "encoding": {
            "x": {"datum": {"year": 2010, "month": 9, "date": 1, "utc": true}, "type": "temporal"},
            "y": {"datum": 69.2, "type": "quantitative"}
          }
        },
        {
          "data": {"values": [{}]},
          "mark": {"type": "text", "text": ["umbrales 1999 - 2005", "95%:\u00a0\u00a0 22,8%", "99%:\u00a0\u00a0 26,6%"], "font": "Lato", "fontWeight": "bold", "fontSize": 11, "lineHeight": 14.5, "color": "#D0202A", "align": "center", "baseline": "top"},
          "encoding": {
            "x": {"datum": {"year": 2011, "month": 1, "date": 30, "utc": true}, "type": "temporal"},
            "y": {"datum": 43.0, "type": "quantitative"}
          }
        },
        {
          "data": {"values": [{}]},
          "mark": {"type": "text", "text": ["2014 02 11", "34,60[%]"], "font": "Liberation Sans", "fontSize": 12, "lineHeight": 16, "color": "#111111", "align": "right", "baseline": "top"},
          "encoding": {
            "x": {"datum": {"year": 2014, "month": 2, "date": 1, "utc": true}, "type": "temporal"},
            "y": {"datum": 59.9, "type": "quantitative"}
          }
        },
        {
          "data": {"values": [{}]},
          "mark": {"type": "rule", "color": "#333333", "strokeWidth": 1.2},
          "encoding": {
            "x": {"datum": {"year": 2014, "month": 2, "date": 5, "utc": true}, "type": "temporal"},
            "y": {"datum": 52.95, "type": "quantitative"},
            "y2": {"datum": 49.0}
          }
        },
        {
          "data": {"values": [{}]},
          "mark": {"type": "point", "shape": "triangle-down", "filled": true, "color": "#222222", "size": 28, "opacity": 1},
          "encoding": {
            "x": {"datum": {"year": 2014, "month": 2, "date": 5, "utc": true}, "type": "temporal"},
            "y": {"datum": 48.3, "type": "quantitative"}
          }
        }
      ]
    },
    {
      "width": 280,
      "height": 540,
      "view": {"stroke": null},
      "title": {
        "text": "IAS - Nivel de Actividad Sísmica",
        "frame": "group", "anchor": "start", "offset": -172, "dx": 3,
        "font": "Open Sans", "fontSize": 18.5, "fontWeight": "normal", "color": "#151515"
      },
      "resolve": {"scale": {"y": "independent"}},
      "layer": [
        {
          "data": {"values": [{}]},
          "layer": [
            {
              "mark": {"type": "rect", "fill": "#EF7B2B"},
              "encoding": {
                "x": {"datum": 239.5, "type": "quantitative", "scale": {"domain": [0, 280], "nice": false, "zero": false}, "axis": null},
                "x2": {"datum": 280},
                "y": {"datum": 8, "type": "quantitative", "scale": {"domain": [0, 8], "range": [535.6, 179], "nice": false, "zero": false}, "axis": null},
                "y2": {"datum": 7}
              }
            },
            {
              "mark": {"type": "rect", "fill": {"gradient": "linear", "x1": 0, "y1": 0, "x2": 0, "y2": 1, "stops": [{"offset": 0, "color": "#E9AF2C"}, {"offset": 1, "color": "#F4E412"}]}},
              "encoding": {
                "x": {"datum": 239.5, "type": "quantitative"},
                "x2": {"datum": 280},
                "y": {"datum": 7, "type": "quantitative"},
                "y2": {"datum": 5}
              }
            },
            {
              "mark": {"type": "rect", "fill": {"gradient": "linear", "x1": 0, "y1": 0, "x2": 0, "y2": 1, "stops": [{"offset": 0, "color": "#2D4790"}, {"offset": 0.5, "color": "#5F86C4"}, {"offset": 1, "color": "#9ED0F1"}]}},
              "encoding": {
                "x": {"datum": 239.5, "type": "quantitative"},
                "x2": {"datum": 280},
                "y": {"datum": 5, "type": "quantitative"},
                "y2": {"datum": 0}
              }
            },
            {
              "mark": {"type": "rule", "color": "#E8141C", "strokeWidth": 3.5},
              "encoding": {
                "x": {"datum": 240, "type": "quantitative"},
                "x2": {"datum": 280},
                "y": {"datum": 7.6, "type": "quantitative"}
              }
            },
            {
              "mark": {"type": "rule", "color": "#E8141C", "strokeWidth": 2.5},
              "encoding": {
                "x": {"datum": 262.5, "type": "quantitative"},
                "y": {"datum": 7.6, "type": "quantitative"},
                "y2": {"datum": 8.0}
              }
            },
            {
              "mark": {"type": "point", "shape": "triangle-up", "filled": true, "color": "#E8141C", "size": 45, "opacity": 1},
              "encoding": {
                "x": {"datum": 262.5, "type": "quantitative"},
                "y": {"datum": 8.08, "type": "quantitative"}
              }
            }
          ]
        },
        {
          "data": {"name": "tabla"},
          "layer": [
            {
              "mark": {"type": "rect", "fill": "white", "stroke": "black", "strokeWidth": 3},
              "encoding": {
                "x": {"datum": 0, "type": "quantitative"},
                "x2": {"datum": 58.5},
                "y": {"field": "nivel", "type": "ordinal", "scale": {"domain": ["8", "7", "6", "5", "4", "3", "2", "1"], "range": [179, 535.6], "paddingInner": 0, "paddingOuter": 0}, "axis": null}
              }
            },
            {
              "mark": {"type": "rect", "fill": "white", "stroke": "black", "strokeWidth": 3},
              "encoding": {
                "x": {"datum": 58.5, "type": "quantitative"},
                "x2": {"datum": 239.5},
                "y": {"field": "nivel", "type": "ordinal"}
              }
            },
            {
              "mark": {"type": "text", "font": "DejaVu Sans", "fontSize": 15, "color": "#1a1a1a", "align": "center", "baseline": "middle"},
              "encoding": {
                "x": {"datum": 29, "type": "quantitative"},
                "y": {"field": "nivel", "type": "ordinal"},
                "text": {"field": "num"}
              }
            },
            {
              "mark": {"type": "text", "font": "DejaVu Sans", "fontSize": 15, "color": "#1a1a1a", "align": "center", "baseline": "middle"},
              "encoding": {
                "x": {"datum": 149, "type": "quantitative"},
                "y": {"field": "nivel", "type": "ordinal"},
                "text": {"field": "desc"}
              }
            }
          ]
        }
      ]
    }
  ]
}
